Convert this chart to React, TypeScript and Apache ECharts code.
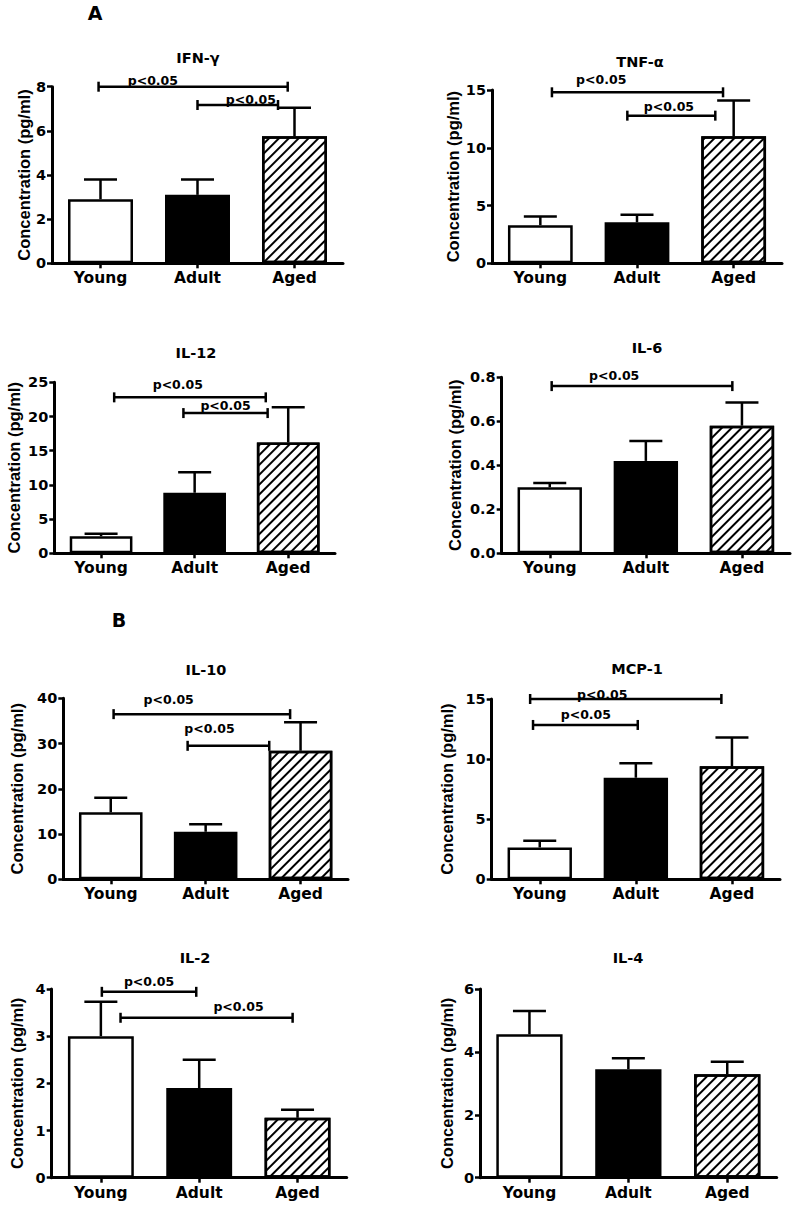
import React, { useEffect, useRef } from 'react';
import * as echarts from 'echarts';

const groups = ['Young', 'Adult', 'Aged'];
const panelTitles = ['IFN-γ', 'TNF-α', 'IL-12', 'IL-6', 'IL-10', 'MCP-1', 'IL-2', 'IL-4'];
const sectionLabels = ['A', 'B'];
const yAxisName = 'Concentration (pg/ml)';
const pLabel = 'p<0.05';

// means and upper error-bar ends (mean + SEM)
const ifnMean = [2.9, 3.1, 5.75];
const ifnTop = [3.8, 3.8, 7.05];
const tnfMean = [3.3, 3.55, 11.0];
const tnfTop = [4.05, 4.2, 14.1];
const il12Mean = [2.5, 8.85, 16.2];
const il12Top = [2.85, 11.85, 21.35];
const il6Mean = [0.3, 0.42, 0.58];
const il6Top = [0.32, 0.51, 0.685];
const il10Mean = [14.8, 10.5, 28.4];
const il10Top = [18.0, 12.15, 34.7];
const mcp1Mean = [2.65, 8.45, 9.4];
const mcp1Top = [3.2, 9.65, 11.8];
const il2Mean = [3.0, 1.9, 1.27];
const il2Top = [3.73, 2.5, 1.44];
const il4Mean = [4.56, 3.45, 3.29];
const il4Top = [5.3, 3.8, 3.69];

// y axis maxima and tick steps
const yMax = [8, 15, 25, 0.8, 40, 15, 4, 6];
const yStep = [2, 5, 5, 0.2, 10, 5, 1, 2];

// significance brackets: [fromGroup, toGroup, level, labelGroupPos, labelLevel]
const ifnSig = [[-0.02, 1.93, 8.0, 0.54, 8.3], [1.0, 1.83, 7.17, 1.55, 7.44]];
const tnfSig = [[0.12, 1.89, 14.8, 0.63, 15.87], [0.9, 1.81, 12.78, 1.33, 13.6]];
const il12Sig = [[0.14, 1.76, 22.8, 0.82, 24.75], [0.88, 1.78, 20.5, 1.33, 21.6]];
const il6Sig = [[0.02, 1.9, 0.76, 0.67, 0.806]];
const il10Sig = [[0.03, 1.89, 36.5, 0.61, 39.8], [0.81, 1.67, 29.5, 1.04, 33.4]];
const mcp1Sig = [[-0.1, 1.89, 15.0, 0.65, 15.4], [-0.07, 1.02, 12.84, 0.48, 13.67]];
const il2Sig = [[0.01, 0.97, 3.94, 0.49, 4.15], [0.2, 1.95, 3.39, 1.4, 3.62]];
const il4Sig: number[][] = [];

const means = [ifnMean, tnfMean, il12Mean, il6Mean, il10Mean, mcp1Mean, il2Mean, il4Mean];
const tops = [ifnTop, tnfTop, il12Top, il6Top, il10Top, mcp1Top, il2Top, il4Top];
const sigs = [ifnSig, tnfSig, il12Sig, il6Sig, il10Sig, mcp1Sig, il2Sig, il4Sig];

// layout (pixels)
const grids = [
  { left: 52, top: 86.7, width: 291, height: 176.6, gap: 18, tx: 198, ty: 58 },
  { left: 492, top: 90, width: 290, height: 173.3, gap: 22, tx: 640, ty: 62 },
  { left: 54.3, top: 382.3, width: 280.7, height: 171, gap: 32, tx: 196, ty: 353 },
  { left: 501.7, top: 377.3, width: 288.3, height: 176, gap: 38, tx: 647, ty: 348 },
  { left: 63.3, top: 698.3, width: 284.7, height: 181, gap: 38, tx: 206, ty: 670 },
  { left: 491.7, top: 699, width: 288.3, height: 180.3, gap: 36, tx: 637, ty: 669 },
  { left: 51.7, top: 989, width: 295, height: 188.7, gap: 26, tx: 195, ty: 958 },
  { left: 480, top: 989, width: 296.7, height: 188.7, gap: 25, tx: 628, ty: 958 },
];
const sectionPos = [[95, 13], [119, 620]];

const HFONT = 'DejaVu Sans';
const VFONT = 'Liberation Sans, Arial, sans-serif';

const barStyles = [
  { color: '#ffffff', borderColor: '#000', borderWidth: 2.5 },
  { color: '#000000', borderColor: '#000', borderWidth: 2.5 },
  {
    color: '#ffffff',
    borderColor: '#000',
    borderWidth: 2.5,
    decal: {
      symbol: 'rect',
      symbolSize: 1,
      dashArrayX: [1, 0],
      dashArrayY: [2, 5],
      rotation: -Math.PI / 4,
      color: '#000000',
      backgroundColor: '#ffffff',
    },
  },
];

function buildOption() {
  const n = grids.length;
  const xCat = grids.map((_, i) => ({
    type: 'category',
    gridIndex: i,
    data: groups,
    boundaryGap: true,
    axisLine: { show: true, onZero: false, lineStyle: { color: '#000', width: 3 } },
    axisTick: { show: true, alignWithLabel: true, length: 5, lineStyle: { color: '#000', width: 2.5 } },
    axisLabel: { color: '#000', fontFamily: HFONT, fontWeight: 'bold', fontSize: 15.5, margin: 7 },
    splitLine: { show: false },
  }));
  const xVal = grids.map((_, i) => ({
    type: 'value',
    gridIndex: i,
    min: -0.5,
    max: 2.5,
    show: false,
    axisLine: { onZero: false },
    splitLine: { show: false },
  }));
  const yAxes = grids.map((g, i) => ({
    type: 'value',
    gridIndex: i,
    min: 0,
    max: yMax[i],
    interval: yStep[i],
    name: yAxisName,
    nameLocation: 'middle',
    nameRotate: 90,
    nameGap: g.gap,
    nameTextStyle: { color: '#000', fontFamily: VFONT, fontWeight: 'bold', fontSize: 16.5 },
    axisLine: { show: true, onZero: false, lineStyle: { color: '#000', width: 3 } },
    axisTick: { show: true, length: 5, lineStyle: { color: '#000', width: 2.5 } },
    axisLabel: {
      color: '#000',
      fontFamily: HFONT,
      fontWeight: 'bold',
      fontSize: 14.5,
      margin: 6,
      formatter: (v: number) => (yStep[i] < 1 ? v.toFixed(1) : String(v)),
    },
    splitLine: { show: false },
  }));

  const series: any[] = [];
  for (let i = 0; i < n; i++) {
    series.push({
      type: 'bar',
      xAxisIndex: i,
      yAxisIndex: i,
      barWidth: '67%',
      data: means[i].map((v, k) => ({ value: v, itemStyle: barStyles[k] })),
      z: 2,
    });
    series.push({
      type: 'custom',
      xAxisIndex: i,
      yAxisIndex: i,
      z: 3,
      data: means[i].map((v, k) => [k, v, tops[i][k]]),
      renderItem: (params: any, api: any) => {
        const base = api.coord([api.value(0), api.value(1)]);
        const top = api.coord([api.value(0), api.value(2)]);
        const half = 16.5;
        const st = { stroke: '#000', lineWidth: 2.5 };
        return {
          type: 'group',
          children: [
            { type: 'line', shape: { x1: top[0], y1: base[1], x2: top[0], y2: top[1] }, style: st },
            { type: 'line', shape: { x1: top[0] - half, y1: top[1], x2: top[0] + half, y2: top[1] }, style: st },
          ],
        };
      },
    });
    if (sigs[i].length) {
      series.push({
        type: 'custom',
        xAxisIndex: n + i,
        yAxisIndex: i,
        z: 4,
        clip: false,
        data: sigs[i],
        renderItem: (params: any, api: any) => {
          const a = api.coord([api.value(0), api.value(2)]);
          const b = api.coord([api.value(1), api.value(2)]);
          const l = api.coord([api.value(3), api.value(4)]);
          const st = { stroke: '#000', lineWidth: 2.5 };
          const h = 5;
          return {
            type: 'group',
            children: [
              { type: 'line', shape: { x1: a[0], y1: a[1], x2: b[0], y2: b[1] }, style: st },
              { type: 'line', shape: { x1: a[0], y1: a[1] - h, x2: a[0], y2: a[1] + h }, style: st },
              { type: 'line', shape: { x1: b[0], y1: b[1] - h, x2: b[0], y2: b[1] + h }, style: st },
              {
                type: 'text',
                x: l[0],
                y: l[1],
                style: {
                  text: pLabel,
                  fill: '#000',
                  font: `bold 12.5px ${HFONT}`,
                  align: 'center',
                  verticalAlign: 'middle',
                },
              },
            ],
          };
        },
      });
    }
  }

  const graphic: any[] = grids.map((g, i) => ({
    type: 'text',
    x: g.tx,
    y: g.ty,
    style: {
      text: panelTitles[i],
      fill: '#000',
      font: `bold 14.5px ${HFONT}`,
      align: 'center',
      verticalAlign: 'middle',
    },
  }));
  sectionLabels.forEach((s, i) => {
    graphic.push({
      type: 'text',
      x: sectionPos[i][0],
      y: sectionPos[i][1],
      style: { text: s, fill: '#000', font: `bold 19px ${HFONT}`, align: 'center', verticalAlign: 'middle' },
    });
  });

  return {
    animation: false,
    backgroundColor: '#ffffff',
    grid: grids.map((g) => ({ left: g.left, top: g.top, width: g.width, height: g.height, containLabel: false })),
    xAxis: [...xCat, ...xVal],
    yAxis: yAxes,
    series,
    graphic,
  };
}

export default function App() {
  const ref = useRef<HTMLDivElement>(null);
  useEffect(() => {
    if (!ref.current) return;
    const chart = echarts.init(ref.current, null, { renderer: 'svg' });
    chart.setOption(buildOption() as any);
    return () => chart.dispose();
  }, []);
  return (
    <div
      ref={ref}
      style={{ position: 'absolute', left: 0, top: 0, width: 797, height: 1209, background: '#fff' }}
    />
  );
}
